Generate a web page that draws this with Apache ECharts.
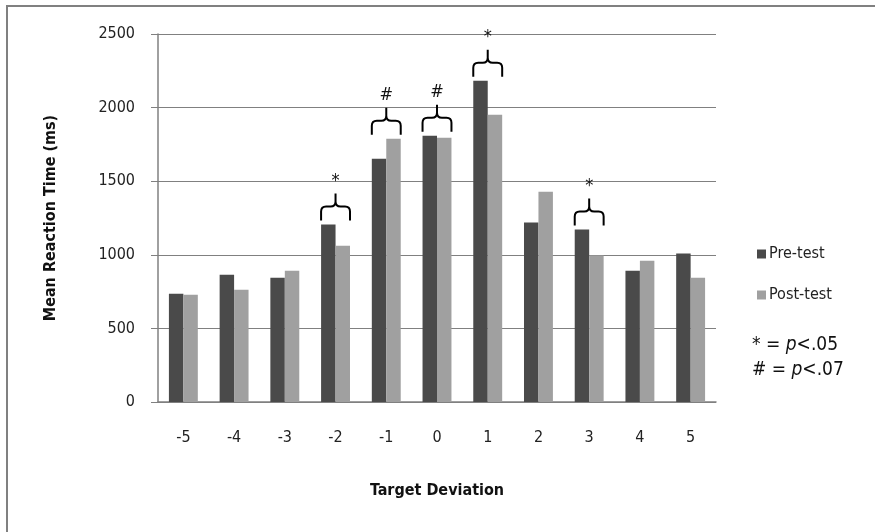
<!DOCTYPE html>
<html>
<head>
<meta charset="utf-8">
<script src="https://cdn.jsdelivr.net/npm/echarts@6/dist/echarts.min.js"></script>
<style>html,body{margin:0;padding:0;background:#fff;}#c{width:875px;height:532px;}</style>
</head>
<body>
<div id="c"></div>
<script>
const categories = ['-5','-4','-3','-2','-1','0','1','2','3','4','5'];
const preTest  = [736, 865, 844, 1205, 1653, 1809, 2183, 1219, 1172, 892, 1008];
const postTest = [729, 763, 892, 1062, 1789, 1796, 1952, 1429, 996, 960, 844];
const significance = ['', '', '', '*', '#', '#', '*', '', '*', '', ''];
const yTicks = [0, 500, 1000, 1500, 2000, 2500];

const FONT = "'Liberation Sans Narrow','DejaVu Sans Condensed','Liberation Sans',sans-serif";

const braceData = [];
significance.forEach((s, i) => {
  if (s) braceData.push([i, Math.max(preTest[i], postTest[i]), s]);
});

const chart = echarts.init(document.getElementById('c'));
chart.setOption({
  animation: false,
  backgroundColor: '#fff',
  grid: { left: 158, right: 159, top: 34, bottom: 130 },
  xAxis: {
    type: 'category',
    data: categories,
    name: 'Target Deviation',
    nameLocation: 'middle',
    nameGap: 81,
    nameTextStyle: { fontFamily: FONT, fontSize: 16, fontWeight: 'bold', color: '#111' },
    axisLine: { lineStyle: { color: '#808080', width: 1.5 } },
    axisTick: { show: false },
    axisLabel: { fontFamily: FONT, fontSize: 16, color: '#222', margin: 28 }
  },
  yAxis: {
    type: 'value',
    min: yTicks[0],
    max: yTicks[yTicks.length - 1],
    interval: 500,
    name: 'Mean Reaction Time (ms)',
    nameLocation: 'middle',
    nameGap: 99,
    nameTextStyle: { fontFamily: FONT, fontSize: 16, fontWeight: 'bold', color: '#111' },
    axisLine: { show: true, lineStyle: { color: '#808080', width: 1.5 } },
    axisTick: { show: true, length: 7, lineStyle: { color: '#808080' } },
    axisLabel: { fontFamily: FONT, fontSize: 16, color: '#222', margin: 23, formatter: v => String(v) },
    splitLine: { lineStyle: { color: '#808080', width: 1.2 } }
  },
  legend: {
    orient: 'vertical',
    left: 752,
    top: 241,
    itemWidth: 9,
    itemHeight: 9,
    itemGap: 25,
    icon: 'rect',
    textStyle: { fontFamily: FONT, fontSize: 16, color: '#222', padding: [0, 0, 0, -2] },
    data: ['Pre-test', 'Post-test']
  },
  series: [
    {
      name: 'Pre-test', type: 'bar', data: preTest,
      barCategoryGap: '43%', barGap: '0%',
      itemStyle: { color: '#4a4a4a' }
    },
    {
      name: 'Post-test', type: 'bar', data: postTest,
      barCategoryGap: '43%', barGap: '0%',
      itemStyle: { color: '#a0a0a0' }
    },
    {
      type: 'custom',
      data: braceData,
      z: 10,
      renderItem: function (params, api) {
        const c = api.coord([api.value(0), api.value(1)]);
        const band = api.size([1, 0])[0];
        const hw = band * 0.57 / 2;
        const xc = c[0];
        const x0 = xc - hw, x1 = xc + hw;
        const yb = c[1] - 4;
        const ym = yb - 14;
        const yt = yb - 27;
        const r = 5;
        const path = `M${x0},${yb} L${x0},${ym + r} Q${x0},${ym} ${x0 + r},${ym} L${xc - r},${ym} Q${xc},${ym} ${xc},${ym - r} L${xc},${yt} ` +
                     `M${x1},${yb} L${x1},${ym + r} Q${x1},${ym} ${x1 - r},${ym} L${xc + r},${ym} Q${xc},${ym} ${xc},${ym - r}`;
        return {
          type: 'group',
          children: [
            { type: 'path', shape: { pathData: path }, style: { stroke: '#000', lineWidth: 2, fill: null } },
            { type: 'text', style: { text: api.value(2), x: xc, y: yt - 3, align: 'center', verticalAlign: 'bottom',
              fontFamily: FONT, fontSize: 18, fill: '#111' } }
          ]
        };
      }
    }
  ],
  graphic: [
    { type: 'rect', shape: { x: 7, y: 6, width: 900, height: 600 }, style: { fill: null, stroke: '#808080', lineWidth: 2 }, silent: true },
    { type: 'text', left: 752, top: 336, style: {
        text: '* = {i|p}<.05', fontFamily: FONT, fontSize: 19, fill: '#111',
        rich: { i: { fontStyle: 'italic', fontFamily: FONT, fontSize: 19, fill: '#111' } } } },
    { type: 'text', left: 752, top: 361, style: {
        text: '# = {i|p}<.07', fontFamily: FONT, fontSize: 19, fill: '#111',
        rich: { i: { fontStyle: 'italic', fontFamily: FONT, fontSize: 19, fill: '#111' } } } }
  ]
});
</script>
</body>
</html>
